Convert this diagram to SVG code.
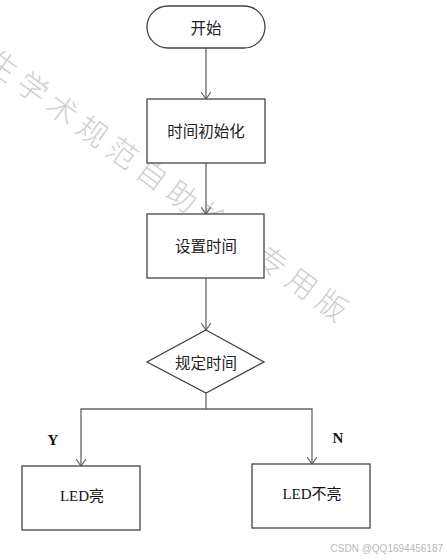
<svg xmlns="http://www.w3.org/2000/svg" width="447" height="560" viewBox="0 0 447 560">
<style>
.node{fill:#fff;stroke:#444;stroke-width:1.3}
.lbl{font-family:"Noto Sans CJK SC","Noto Sans",sans-serif;font-size:15.5px;fill:#222;text-anchor:middle;dominant-baseline:central}
.slbl{font-family:"Liberation Serif","Noto Sans CJK SC",serif;font-size:15px;fill:#111;text-anchor:middle;dominant-baseline:central}
.yn{font-family:"Liberation Serif",serif;font-size:15px;font-weight:bold;fill:#111;text-anchor:middle}
.conn{fill:none;stroke:#666;stroke-width:1.3}
.wm{font-family:"Noto Sans CJK SC",sans-serif;font-size:30px;fill:#cfcfcf;letter-spacing:7px;font-weight:300}
.csdn{font-family:"Liberation Sans","Noto Sans",sans-serif;font-size:10px;fill:#b8b8b8;text-anchor:end}
</style>
<defs>
<marker id="arr" markerWidth="12" markerHeight="10" refX="7" refY="5" orient="auto" markerUnits="userSpaceOnUse">
<path d="M0,0 L7,5 L0,10" fill="none" stroke="#666" stroke-width="1.2"/>
</marker>
</defs>
<rect width="447" height="560" fill="#fff"/>
<g id="watermark"><text class="wm" transform="translate(-16,66) rotate(36)" x="0" y="0">生学术规范自助检测专用版</text></g>
<g id="connectors">
<path class="conn" d="M206,48 V99" marker-end="url(#arr)"/>
<path class="conn" d="M206,163 V214" marker-end="url(#arr)"/>
<path class="conn" d="M206,278 V330" marker-end="url(#arr)"/>
<path class="conn" d="M206,393 V409 H81 V466" marker-end="url(#arr)"/>
<path class="conn" d="M206,409 H312 V464" marker-end="url(#arr)"/>
</g>
<g id="start"><rect class="node" x="147" y="6" width="118" height="42" rx="21"/><text class="lbl" x="206" y="27">开始</text></g>
<g id="init"><rect class="node" x="147" y="99" width="118" height="64"/><text class="lbl" x="206" y="130">时间初始化</text></g>
<g id="set"><rect class="node" x="147" y="214" width="117" height="64"/><text class="lbl" x="206" y="245">设置时间</text></g>
<g id="decide"><polygon class="node" points="206,330 264,362 206,393 147,362"/><text class="lbl" x="206" y="362">规定时间</text></g>
<g id="ledon"><rect class="node" x="22" y="466" width="118" height="64"/><text class="slbl" x="82" y="496">LED亮</text></g>
<g id="ledoff"><rect class="node" x="252" y="464" width="118" height="64"/><text class="slbl" x="312" y="494">LED不亮</text></g>
<g id="labels"><text class="yn" x="53" y="445">Y</text><text class="yn" x="338" y="443">N</text></g>
<text class="csdn" x="443" y="552">CSDN @QQ1694456187</text>
</svg>
